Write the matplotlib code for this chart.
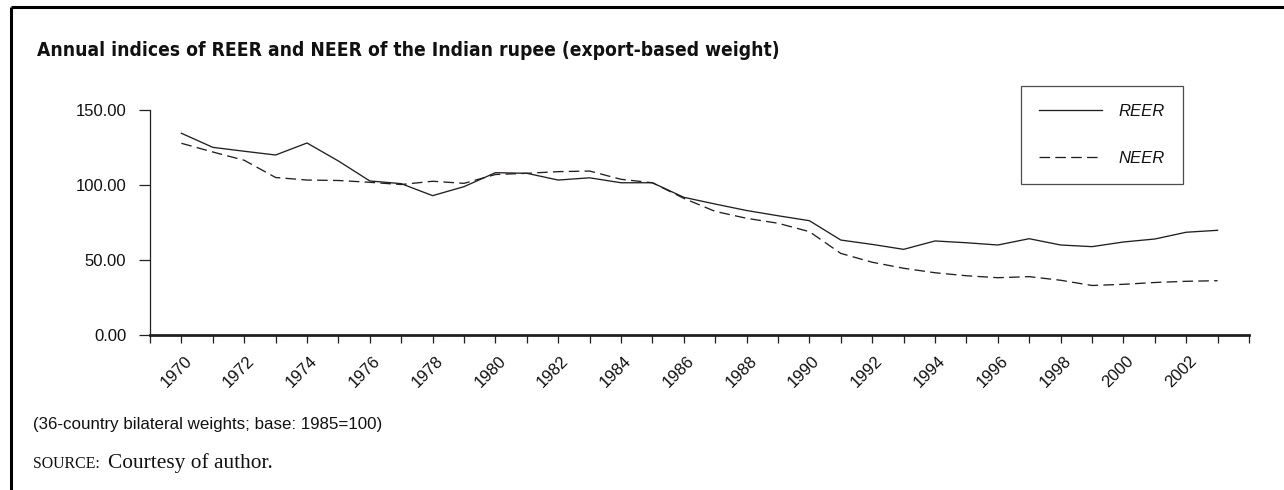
import matplotlib
matplotlib.use("Agg")
import matplotlib.pyplot as plt
from matplotlib.lines import Line2D
from matplotlib.ticker import MultipleLocator, FuncFormatter
from matplotlib import font_manager
from matplotlib.font_manager import FontProperties
import matplotlib.transforms as mtransforms

# ---------------- data ----------------
years = list(range(1970, 2004))
reer = [134.5, 125.1, 122.5, 120.0, 128.0, 116.0, 102.7, 100.9, 92.9, 98.9,
        108.2, 107.8, 103.3, 104.8, 101.5, 101.5, 91.8, 87.3, 83.0, 79.5,
        76.2, 63.3, 60.4, 57.1, 62.7, 61.5, 60.0, 64.2, 60.0, 58.9,
        62.0, 64.0, 68.5, 69.8]
neer = [127.8, 122.0, 116.5, 105.0, 103.3, 103.0, 101.8, 100.3, 102.5, 101.1,
        107.0, 107.8, 108.9, 109.3, 103.8, 101.5, 91.1, 82.4, 77.8, 74.5,
        68.9, 54.4, 48.5, 44.5, 41.5, 39.5, 38.2, 38.9, 36.5, 33.0,
        33.8, 35.0, 35.8, 36.2]
series_labels = ["REER", "NEER"]
yticks = [0, 50, 100, 150]
title = "Annual indices of REER and NEER of the Indian rupee (export-based weight)"
note = "(36-country bilateral weights; base: 1985=100)"
source_lead = "SOURCE:"
source_text = "Courtesy of author."

W, H = 1284, 490
DPI = 100
SANS = ["Liberation Sans", "DejaVu Sans"]
SERIF = ["Liberation Serif", "DejaVu Serif"]
LC = "#231f20"


def find_condensed_bold():
    prefs = ["liberation sans narrow", "dejavu sans condensed", "dejavu sans",
             "roboto condensed", "open sans condensed", "noto sans"]
    cands = []
    for f in font_manager.fontManager.ttflist:
        fname = f.fname.lower()
        name = f.name.lower()
        narrow = ("narrow" in fname or "condensed" in fname or "narrow" in name
                  or "condensed" in name or str(f.stretch) in ("condensed", "semi-condensed", "extra-condensed"))
        bold = (isinstance(f.weight, int) and f.weight >= 600) or str(f.weight) in ("bold", "heavy", "black", "semibold", "demibold") or "bold" in fname
        italic = f.style != "normal" or "italic" in fname or "oblique" in fname
        if narrow and bold and not italic:
            rank = len(prefs)
            for i, p in enumerate(prefs):
                if p in name or p.replace(" ", "") in fname.replace("-", "").replace("_", ""):
                    rank = i
                    break
            cands.append((rank, f.fname))
    if cands:
        cands.sort()
        return FontProperties(fname=cands[0][1])
    return FontProperties(family=SANS, weight="bold")


fig = plt.figure(figsize=(W / DPI, H / DPI), dpi=DPI)
fig.patch.set_facecolor("white")


def fx(px):
    return px / W


def fy(py):
    return 1 - py / H


ax = fig.add_axes([fx(150), fy(335), fx(1249) - fx(150), fy(110) - fy(335)])
ax.plot(years, reer, color=LC, lw=0.95, label=series_labels[0])
ax.plot(years, neer, color=LC, lw=0.95, dashes=(8, 4), label=series_labels[1])

ax.set_xlim(1969, 2004)
ax.set_ylim(0, 150)
ax.set_yticks(yticks)
ax.yaxis.set_major_formatter(FuncFormatter(lambda v, p: f"{v:.2f}"))
ax.xaxis.set_minor_locator(MultipleLocator(1))
ax.set_xticks(list(range(1970, 2004, 2)))

for s in ["top", "right"]:
    ax.spines[s].set_visible(False)
ax.spines["left"].set_linewidth(0.9)
ax.spines["left"].set_color(LC)
ax.spines["bottom"].set_linewidth(2.0)
ax.spines["bottom"].set_color(LC)

ax.tick_params(axis="y", direction="out", length=8, width=0.9, color=LC,
               labelsize=12, pad=9, labelcolor="#111111")
ax.tick_params(axis="x", which="both", direction="out", length=6, width=0.9, color=LC)
ax.tick_params(axis="x", which="major", labelsize=12, pad=4, labelcolor="#111111")
for lab in ax.get_yticklabels():
    lab.set_fontfamily(SANS)
for lab in ax.get_xticklabels():
    lab.set_fontfamily(SANS)
    lab.set_rotation(45)
    lab.set_ha("right")
    lab.set_va("center")
    lab.set_rotation_mode("anchor")
    lab.set_transform(lab.get_transform() + mtransforms.ScaledTranslation(8 / DPI, -10 / DPI, fig.dpi_scale_trans))

leg = ax.legend(loc="lower right", bbox_to_anchor=(fx(1183), fy(184)),
                bbox_transform=fig.transFigure, borderaxespad=0,
                frameon=True, fancybox=False, handlelength=3.75,
                handletextpad=1.0, labelspacing=1.9, borderpad=1.1,
                prop={"family": SANS, "size": 12, "style": "italic"})
leg.get_frame().set_edgecolor(LC)
leg.get_frame().set_linewidth(0.9)
for t in leg.get_texts():
    t.set_color("#111111")

title_fp = find_condensed_bold()
title_fp.set_size(15)
title_fp.set_weight("bold")
t_title = fig.text(fx(37), fy(50), title, fontproperties=title_fp,
                   va="center", ha="left", color="#111111")
t_note = fig.text(fx(33), fy(425), note, fontsize=10.5, family=SANS,
                  va="center", ha="left", color="#111111")
t_src1 = fig.text(fx(33), fy(468), source_lead, fontsize=9.5, family=SERIF,
                  va="baseline", ha="left", color="#111111")
t_src2 = fig.text(fx(108), fy(468), source_text, fontsize=13, family=SERIF,
                  va="baseline", ha="left", color="#111111")

fig.canvas.draw()
r = fig.canvas.get_renderer()


def fit(t, target):
    w = t.get_window_extent(r).width
    t.set_fontsize(t.get_fontsize() * target / w)


fit(t_title, 741)
fit(t_note, 350)
fit(t_src1, 67)
fit(t_src2, 164)

fig.add_artist(Line2D([fx(11.5), 1.0], [fy(7), fy(7)], transform=fig.transFigure,
                      color="black", lw=2.2, solid_capstyle="butt"))
fig.add_artist(Line2D([fx(11.5), fx(11.5)], [fy(7), 0.0], transform=fig.transFigure,
                      color="black", lw=2.2, solid_capstyle="butt"))

fig.savefig("out.png", dpi=DPI, facecolor="white")
